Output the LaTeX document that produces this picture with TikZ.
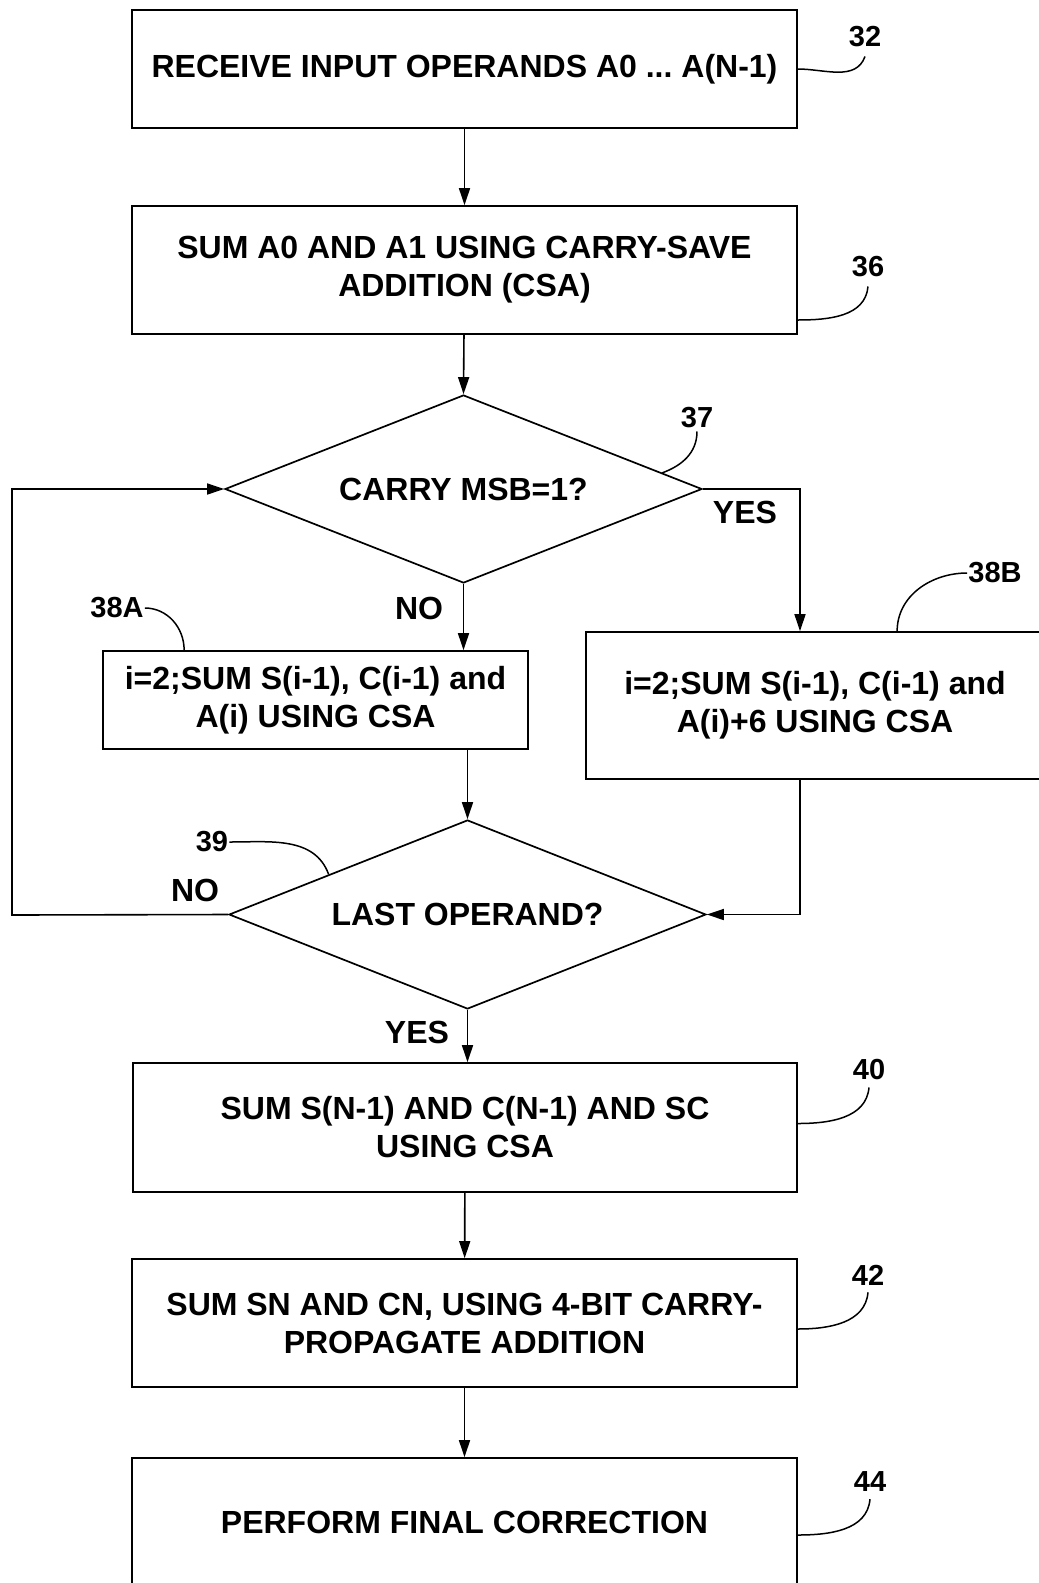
\documentclass[tikz,border=0pt]{standalone}
\usepackage{fontspec}
\setmainfont{Liberation Sans}
\usetikzlibrary{shapes.geometric,arrows.meta,calc}
\frenchspacing
\begin{document}
\begin{tikzpicture}[x=1pt,y=-1pt,
  txt/.style={font=\fontsize{32}{38}\selectfont\bfseries, align=center},
  box/.style={txt, draw, line width=1.7pt, rectangle, inner sep=0pt},
  dec/.style={txt, draw, line width=1.7pt, diamond, inner sep=0pt, aspect=2.54},
  lab/.style={font=\fontsize{29}{34}\selectfont\bfseries, inner sep=1pt},
  flow/.style={line width=1.6pt, -{Triangle[length=17pt,width=11pt]}},
  lead/.style={line width=1.5pt}
]
\useasboundingbox (0,0) rectangle (1039,1583);
\clip (0,0) rectangle (1039,1583);

% boxes
\node[box, minimum width=665pt, minimum height=118pt] (b32) at (464.5,69) {RECEIVE INPUT OPERANDS A0 ... A(N-1)};
\node[box, minimum width=665pt, minimum height=128pt] (b36) at (464.5,270) {SUM A0 AND A1 USING CARRY-SAVE\\ADDITION (CSA)};
\node[dec, minimum width=477pt, minimum height=188pt] (d37) at (463.5,489) {CARRY MSB=1?};
\node[box, minimum width=425pt, minimum height=98pt] (b38a) at (315.5,700) {i=2;SUM S(i-1), C(i-1) and\\A(i) USING CSA};
\node[box, minimum width=458pt, minimum height=147pt] (b38b) at (815,705.5) {i=2;SUM S(i-1), C(i-1) and\\A(i)+6 USING CSA};
\node[dec, minimum width=477pt, minimum height=189pt] (d39) at (467.5,914.5) {LAST OPERAND?};
\node[box, minimum width=664pt, minimum height=129pt] (b40) at (465,1127.5) {SUM S(N-1) AND C(N-1) AND SC\\USING CSA};
\node[box, minimum width=665pt, minimum height=128pt] (b42) at (464.5,1323) {SUM SN AND CN, USING 4-BIT CARRY-\\PROPAGATE ADDITION};
\node[box, minimum width=665pt, minimum height=128pt] (b44) at (464.5,1522) {PERFORM FINAL CORRECTION};

% branch labels
\node[txt] (yes1) at (745,512) {YES};
\node[txt] (no1) at (419,608) {NO};
\node[txt] (no2) at (195,890) {NO};
\node[txt] (yes2) at (417,1032) {YES};

% reference numerals
\node[lab] (l32) at (865,37) {32};
\node[lab] (l36) at (868,267) {36};
\node[lab] (l37) at (697,418) {37};
\node[lab] (l38a) at (117,608) {38A};
\node[lab] (l38b) at (995,573) {38B};
\node[lab] (l39) at (212,842) {39};
\node[lab] (l40) at (869,1070) {40};
\node[lab] (l42) at (868,1275) {42};
\node[lab] (l44) at (870,1482) {44};

% connectors
\draw[flow] (b32) -- (b36);
\draw[flow] (b36) -- (d37.north);
\draw[flow] (d37.south) -- (d37.south |- b38a.north);
\draw[flow] (d37.east) -| ([xshift=-15pt]b38b.north);
\draw[flow] (d39.north |- b38a.south) -- (d39.north);
\draw[flow] ([xshift=-15pt]b38b.south) |- (d39.east);
\coordinate (lp) at (12,915);
\draw[flow] (d39.west) -- (lp) |- (d37.west);
\draw[flow] (d39.south) -- (d39.south |- b40.north);
\draw[flow] (b40) -- (b42);
\draw[flow] (b42) -- (b44);

% leader lines
\draw[lead] (b32.east) to[out=0,in=-110] ([yshift=-8pt]l32.south);
\draw[lead] ([yshift=-50pt]b36.east) to[out=0,in=-95] ([yshift=-8pt]l36.south);
\draw[lead] ([yshift=-2pt]l37.south) to[out=-90,in=20] ($(d37.north)!0.83!(d37.east)$);
\draw[lead] ([xshift=82pt]b38a.north west) to[out=90,in=0] (l38a.east);
\draw[lead] ([xshift=312pt]b38b.north west) to[out=90,in=180] (l38b.west);
\draw[lead] (l39.east) to[out=0,in=110] ($(d39.west)!0.42!(d39.north)$);
\draw[lead] ([yshift=4pt]b40.east) to[out=0,in=-95] ([yshift=-6pt]l40.south);
\draw[lead] ([yshift=-6pt]b42.east) to[out=0,in=-95] ([yshift=-6pt]l42.south);
\draw[lead] ([yshift=-13pt]b44.east) to[out=0,in=-95] ([yshift=-6pt]l44.south);
\end{tikzpicture}
\end{document}
